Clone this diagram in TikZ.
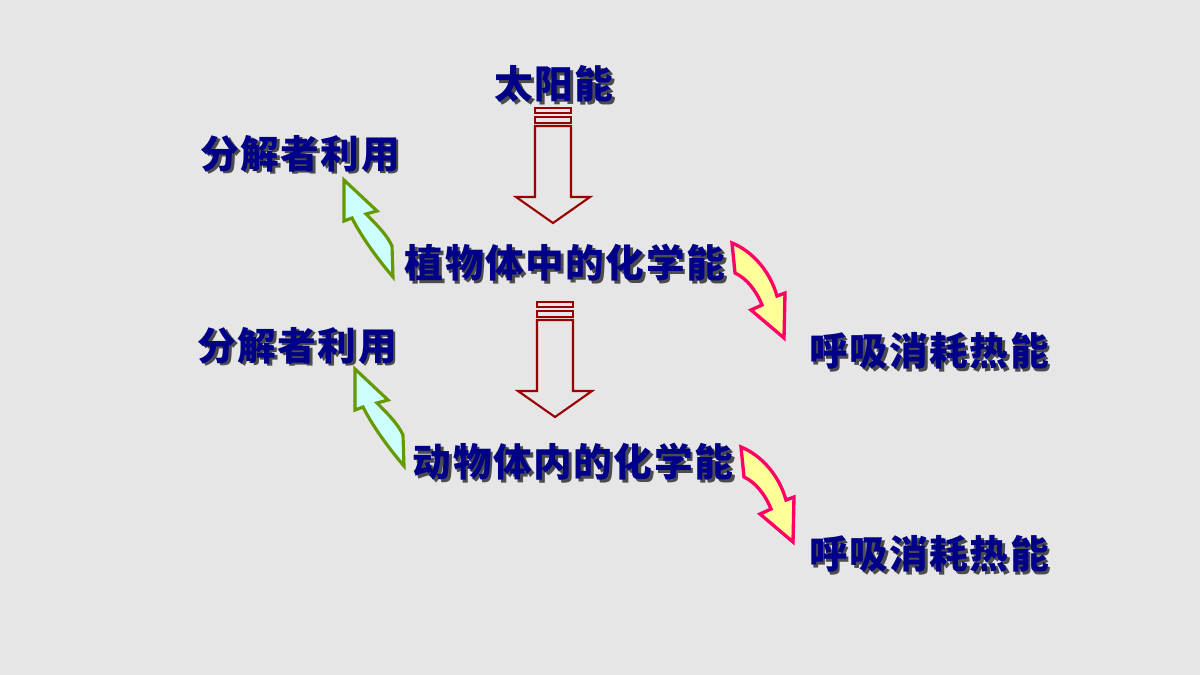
\documentclass[tikz,border=0pt]{standalone}
\usepackage{fontspec}
\newfontfamily\cjk[LetterSpace=4]{Noto Sans CJK SC}
\usetikzlibrary{positioning}

\definecolor{bgray}{HTML}{E6E6E6}
\definecolor{navytext}{HTML}{000088}
\definecolor{darkred}{HTML}{990000}
\definecolor{olive}{HTML}{669900}
\definecolor{paleblue}{HTML}{CCFFFF}
\definecolor{hotpink}{HTML}{FF0066}
\definecolor{paleyellow}{HTML}{FFFF99}

% shadowed label text
\newcommand{\shlabel}[1]{\rlap{\kern1.6pt\raisebox{-1.6pt}{\color{black!70}#1}}#1}

\begin{document}
\begin{tikzpicture}[x=0.02cm, y=-0.02cm,
  energy/.style = {font=\cjk\bfseries\fontsize{22}{26}\selectfont, text=navytext, inner sep=0pt},
  flow/.pic = {
    \draw[darkred, line width=1.2pt] (-18,0) rectangle (18,5);
    \draw[darkred, line width=1.2pt] (-18,9) rectangle (18,15);
    \draw[darkred, line width=1.2pt, line join=miter]
      (-18,18) -- (-18,89) -- (-37,89) -- (0,115) -- (37,89) -- (18,89) -- (18,18) -- cycle;
  },
  decay/.pic = {
    \draw[olive, fill=paleblue, line width=1.8pt, line join=miter]
      (0,0) -- (33,31) -- (22,34) .. controls (33,45) and (43,55) .. (48,66)
      -- (49,97) .. controls (36,82) and (18,58) .. (8,38) -- (0,41) -- cycle;
  },
  breath/.pic = {
    \draw[hotpink, fill=paleyellow, line width=1.9pt, line join=miter]
      (0,0) .. controls (20,8) and (38,28) .. (45,53) -- (53,50) -- (52,95)
      -- (19,67) -- (30,62) .. controls (24,47) and (14,35) .. (3,30) -- cycle;
  }]
  \fill[bgray] (0,0) rectangle (1200,675);
  \useasboundingbox (0,0) rectangle (1200,675);

  \node[energy] (sun) at (554,85) {\shlabel{太阳能}};
  \node[energy] (plant) at (565,264) {\shlabel{植物体中的化学能}};
  \node[energy] (animal) at (573,463) {\shlabel{动物体内的化学能}};
  \node[energy] (dec1) at (300,155) {\shlabel{分解者利用}};
  \node[energy] (dec2) at (297,347) {\shlabel{分解者利用}};
  \node[energy] (heat1) at (929,352) {\shlabel{呼吸消耗热能}};
  \node[energy] (heat2) at (929,555) {\shlabel{呼吸消耗热能}};

  % energy flow between levels
  \pic at (553,108) {flow};
  \pic at (555,302) {flow};

  % decomposers
  \pic at (344,180) {decay};
  \pic at (355,369) {decay};

  % respiration
  \pic at (732,243) {breath};
  \pic at (741,447) {breath};
\end{tikzpicture}
\end{document}
